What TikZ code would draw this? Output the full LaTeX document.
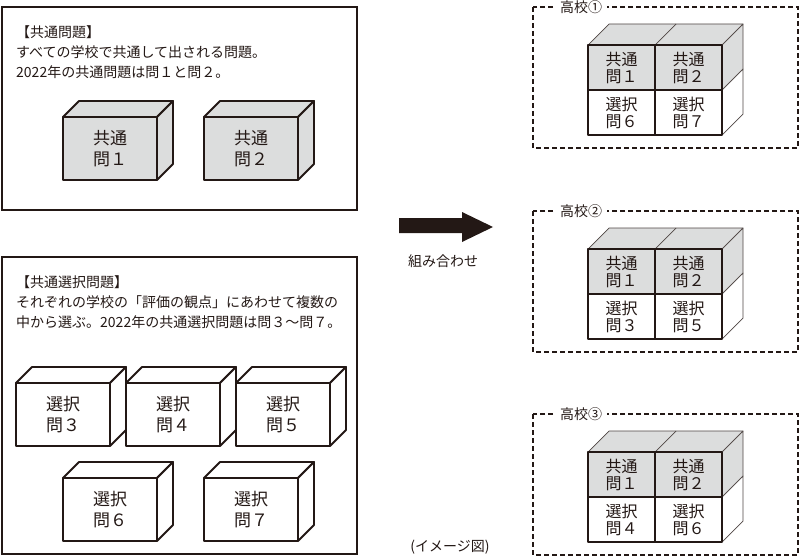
\documentclass[tikz,border=0pt]{standalone}
\usepackage{fontspec}
\setmainfont{Noto Sans CJK JP}
\definecolor{ink}{HTML}{231815}
\definecolor{boxgray}{HTML}{DCDDDD}
\tikzset{
  frame/.style={draw=ink,line width=1.8pt},
  schoolframe/.style={draw=ink,line width=1.4pt,dash pattern=on 5pt off 3pt},
  solid3d/.style={draw=ink,line width=1.8pt,line join=round},
  thinedge/.style={draw=ink!80,line width=0.7pt,line join=round},
  thickedge/.style={draw=ink,line width=1.9pt,line join=round},
  desc/.style={anchor=base west,inner sep=0pt,font=\fontsize{14}{20}\selectfont,text=ink},
  boxtxt/.style={align=center,inner sep=0pt,font=\fontsize{17}{21}\selectfont,text=ink},
  celltxt/.style={align=center,inner sep=0pt,font=\fontsize{16}{16.5}\selectfont,text=ink},
  schoollabel/.style={fill=white,inner xsep=5pt,inner ysep=1pt,font=\fontsize{14}{16}\selectfont,text=ink},
  plain/.style={inner sep=0pt,font=\fontsize{14}{16}\selectfont,text=ink}
}
% problem box: #1 name, #2 x, #3 y (front top-left), #4 fill, #5 text
\newcommand\probbox[5]{%
  \path[solid3d,fill=#4] (#2,#3) -- (#2+16,#3-16) -- (#2+110,#3-16) -- (#2+94,#3) -- cycle;
  \path[solid3d,fill=#4] (#2+94,#3) -- (#2+110,#3-16) -- (#2+110,#3+47) -- (#2+94,#3+63) -- cycle;
  \path[solid3d,fill=#4] (#2,#3) rectangle (#2+94,#3+63);
  \node[boxtxt] (#1) at (#2+47,#3+32) {#5};
}
% school block: #1 name, #2 rect top y, #3 label, #4 left lower text, #5 right lower text
\newcommand\schoolblock[5]{%
  \draw[schoolframe] (533,#2) rectangle (798,#2+141);
  \node[schoollabel] (#1lab) at (581,#2) {#3};
  % top face
  \path[thinedge,fill=boxgray] (588,#2+38) -- (609,#2+17) -- (743,#2+17) -- (722,#2+38) -- cycle;
  \draw[thinedge] (655,#2+38) -- (676,#2+17);
  % right face
  \path[thinedge,fill=boxgray] (722,#2+38) -- (743,#2+17) -- (743,#2+62) -- (722,#2+83) -- cycle;
  \path[thinedge,fill=white] (722,#2+83) -- (743,#2+62) -- (743,#2+107) -- (722,#2+128) -- cycle;
  % front cells
  \fill[boxgray] (588,#2+38) rectangle (722,#2+83);
  \draw[thickedge] (588,#2+38) rectangle (722,#2+128);
  \draw[thickedge] (588,#2+83) -- (722,#2+83);
  \draw[thickedge] (655,#2+38) -- (655,#2+128);
  \node[celltxt] (#1a) at (621.5,#2+61) {共通\\問１};
  \node[celltxt] (#1b) at (688.5,#2+61) {共通\\問２};
  \node[celltxt] (#1c) at (621.5,#2+106) {#4};
  \node[celltxt] (#1d) at (688.5,#2+106) {#5};
}
\begin{document}
\begin{tikzpicture}[x=1pt,y=-1pt]
\useasboundingbox (0,0) rectangle (800,556);
% common problems box
\draw[frame] (2,7) rectangle (357,210);
\node[desc] (c1) at (16,37.5) {【共通問題】};
\node[desc] (c2) at (16,57.5) {すべての学校で共通して出される問題。};
\node[desc] (c3) at (16,77.5) {2022年の共通問題は問１と問２。};
\probbox{k1}{63}{117}{boxgray}{共通\\問１}
\probbox{k2}{204}{117}{boxgray}{共通\\問２}
% elective problems box
\draw[frame] (2,257) rectangle (357,554);
\node[desc] (s1) at (16,287.5) {【共通選択問題】};
\node[desc] (s2) at (16,307.5) {それぞれの学校の「評価の観点」にあわせて複数の};
\node[desc] (s3) at (16,327.5) {中から選ぶ。2022年の共通選択問題は問３〜問７。};
\probbox{e3}{16}{383}{white}{選択\\問３}
\probbox{e4}{126}{383}{white}{選択\\問４}
\probbox{e5}{236}{383}{white}{選択\\問５}
\probbox{e6}{63}{478}{white}{選択\\問６}
\probbox{e7}{204}{478}{white}{選択\\問７}
% arrow
\fill[ink] (399,218) -- (462,218) -- (462,212) -- (493,227) -- (462,242) -- (462,233) -- (399,233) -- cycle;
\node[plain] (comb) at (443,261) {組み合わせ};
% schools
\schoolblock{h1}{7}{高校①}{選択\\問６}{選択\\問７}
\schoolblock{h2}{211}{高校②}{選択\\問３}{選択\\問５}
\schoolblock{h3}{414}{高校③}{選択\\問４}{選択\\問６}
\node[plain] (img) at (450,547) {(イメージ図)};
\end{tikzpicture}
\end{document}
